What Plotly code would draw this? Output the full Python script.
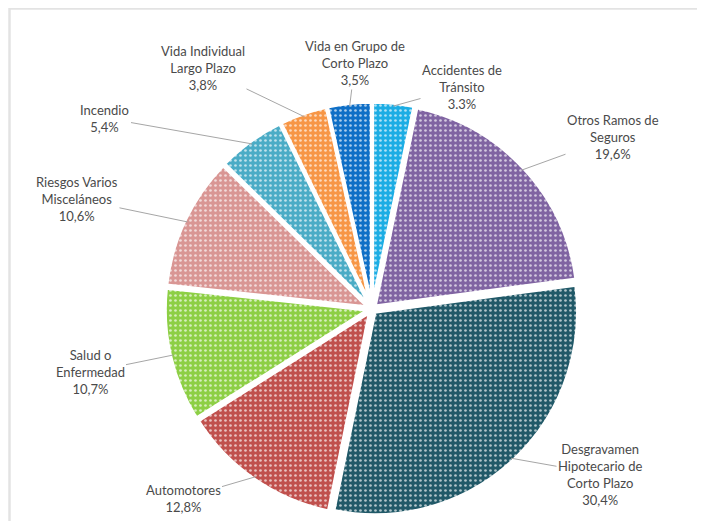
import math
import plotly.graph_objects as go

categories = ["Accidentes de<br>Tránsito", "Otros Ramos de<br>Seguros",
              "Desgravamen<br>Hipotecario de<br>Corto Plazo", "Automotores",
              "Salud o<br>Enfermedad", "Riesgos Varios<br>Misceláneos", "Incendio",
              "Vida Individual<br>Largo Plazo", "Vida en Grupo de<br>Corto Plazo"]
values = [3.3, 19.6, 30.4, 12.8, 10.7, 10.6, 5.4, 3.8, 3.5]
value_labels = ["3.3%", "19,6%", "30,4%", "12,8%", "10,7%", "10,6%", "5,4%", "3,8%", "3,5%"]
colors = ["#1CADE4", "#8064A2", "#215968", "#C0504D", "#8DCF45",
          "#D99694", "#4BACC6", "#F79646", "#0F6FC6"]
# label text centres (screen pixels)
label_pos = [(462, 87), (613, 137), (600, 474), (183, 498), (90, 372),
             (77, 199), (105, 118), (203, 68), (355, 63)]

OFF = 8                            # page body margin
W, H = 705 - OFF, 529 - 2 * OFF    # figure size (avoid page overflow)
cx, cy, r = 372 - OFF, 309 - OFF, 203
pull = 0.02
R = r * (1 + pull)

fig = go.Figure(go.Pie(
    labels=[c.replace("<br>", " ") for c in categories],
    values=values, sort=False, direction="clockwise", rotation=0,
    marker=dict(colors=colors, line=dict(color="white", width=3.5),
                pattern=dict(shape=".", fgcolor="white", bgcolor=colors,
                             fgopacity=0.65, size=5, solidity=0.22)),
    pull=[pull] * len(values), textinfo="none", hoverinfo="label+percent",
    showlegend=False,
    domain=dict(x=[(cx - R) / W, (cx + R) / W], y=[1 - (cy + R) / H, 1 - (cy - R) / H]),
))

total = sum(values)
cum = 0
annotations = []
for cat, v, vl, (lx, ly) in zip(categories, values, value_labels, label_pos):
    mid = (cum + v / 2) / total * 2 * math.pi
    cum += v
    tr = r * (1 + pull) * 0.985
    tx = cx + tr * math.sin(mid)
    ty = cy - tr * math.cos(mid)
    annotations.append(dict(
        x=tx / W, y=1 - ty / H, xref="paper", yref="paper",
        ax=(lx - OFF) - tx, ay=(ly - OFF) - ty, axref="pixel", ayref="pixel",
        text=f"{cat}<br>{vl}", showarrow=True, arrowhead=0, arrowwidth=1,
        arrowcolor="#A6A6A6", standoff=0, align="center",
        font=dict(family="Lato", size=13, color="#4A4A4A"),
    ))

# chart frame: only left and top edges are inside the picture
x0f, yt = 1.5 / W, 1 - 0.5 / H
fig.update_layout(
    width=W, height=H, margin=dict(l=0, r=0, t=0, b=0),
    paper_bgcolor="white", plot_bgcolor="white",
    annotations=annotations,
    shapes=[dict(type="path", xref="paper", yref="paper",
                 path=f"M {x0f},-0.2 L {x0f},{yt} L 1.2,{yt}",
                 line=dict(color="#E3E3E3", width=2.5), layer="below")],
)
fig.write_html("out.html")
